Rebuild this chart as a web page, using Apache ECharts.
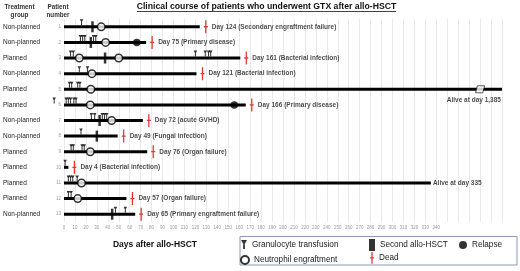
<!DOCTYPE html>
<html><head><meta charset="utf-8">
<script src="https://cdn.jsdelivr.net/npm/echarts@6/dist/echarts.min.js"></script>
<style>html,body{margin:0;padding:0;background:#fff}#c{width:520px;height:271px}</style>
</head><body><div id="c"></div>
<script>
// ---- data ----
const patients = ['1','2','3','4','5','6','7','8','9','10','11','12','13'];
const groups = ['Non-planned','Non-planned','Planned','Non-planned','Planned','Planned','Non-planned','Non-planned','Planned','Planned','Planned','Planned','Non-planned'];
const lastDay = [124, 75, 161, 121, 1385, 166, 72, 49, 76, 4, 335, 57, 65];
const deathDay = [124, 75, 161, 121, null, 166, 72, 49, 76, 4, null, 57, 65];
const deathCause = ['Secondary engraftment failure','Primary disease','Bacterial infection','Bacterial infection',null,'Primary disease','acute GVHD','Fungal infection','Organ failure','Bacterial infection',null,'Organ failure','Primary engraftment failure'];
const aliveDay = [null,null,null,null,1385,null,null,null,null,null,335,null,null];
const gtxDays = [[16],[15,17,19,27,29],[6,8.5,120,129,132,134],[14,21.5],[5,7,12.5,14.5],[-9,2,4,6,9,11],[25,28,35,37,39],[15.5],[6.5,8.5,16.5,18.5],[1],[4,6,8,12],[4,6.5],[47,56]];
const secondHsctDays = [[26],[24.5],[37.5],[],[],[],[32.5],[30],[],[],[],[],[44]];
const engraftDays = [[34],[38],[14,50],[25.5],[24.5],[24],[43.5],[],[24],[],[16],[12.5],[]];
const relapseDays = [[],[66.5],[],[],[],[155.5],[],[],[],[],[],[],[]];
const axisBreakDays = [null,null,null,null,380,null,null,null,null,null,null,null,null];
const xMax = 400;
const xLabelMax = 340;

// ---- build ----
const NF = "'Liberation Sans',Arial,sans-serif";
function pairs(arr){const o=[];arr.forEach((d,i)=>d.forEach(v=>o.push([v,i])));return o;}
const chart = echarts.init(document.getElementById('c'), null, {renderer:'canvas'});
const gtxPath = 'path://M0,0L8,0L4,7ZM2.8,6h2.4v6h-2.4z';
const deadPath = 'path://M1.5,0h1.4v13h-1.4zM0,5.8h4.4v1.3h-4.4z';
const breakPath = 'path://M2,0L10,0L8,7L0,7Z';
const legText = {fontSize:8.2,color:'#1a1a1a',fontFamily:NF};
function leg(name, icon, left, top, w, h){
  return {data:[icon?{name:name,icon:icon}:{name:name}],orient:'vertical',left:left,top:top,itemWidth:w,itemHeight:h,
          itemGap:0,padding:0,textStyle:legText,selectedMode:false};
}

const option = {
  animation:false,
  grid:{left:63,right:18,top:19,bottom:49},
  xAxis:{type:'value',min:0,max:xMax,interval:10,
    axisLine:{show:false},axisTick:{show:false},
    splitLine:{show:true,lineStyle:{color:'#e9e9e9',width:1}},
    axisLabel:{fontSize:4.5,color:'#9a9a9a',margin:3,formatter:v=>v<=xLabelMax?String(v):''}},
  yAxis:[
    {type:'category',data:patients,inverse:true,axisLine:{show:false},axisTick:{show:false},
     axisLabel:{fontSize:4.5,color:'#9a9a9a',margin:3}},
    {type:'category',data:groups,inverse:true,position:'left',axisLine:{show:false},axisTick:{show:false},
     axisLabel:{fontSize:6.5,color:'#222',margin:61,align:'left',fontFamily:NF}}
  ],
  legend:[
    leg('Granulocyte transfusion', gtxPath, 241, 240, 6, 10),
    leg('Neutrophil engraftment', null, 240, 255, 8, 8),
    leg('Second allo-HSCT', 'rect', 369, 239, 6, 12),
    leg('Dead', deadPath, 370, 252, 4, 14),
    leg('Relapse', null, 459, 241, 8, 8)
  ],
  graphic:[
    {type:'text',style:{text:'Clinical course of patients who underwent GTX after allo-HSCT',x:266.5,y:6.5,align:'center',verticalAlign:'middle',font:"bold 8.7px "+NF,fill:'#111'}},
    {type:'line',shape:{x1:137,y1:11.5,x2:396,y2:11.5},style:{stroke:'#111',lineWidth:0.8}},
    {type:'text',style:{text:'Treatment\ngroup',x:19.5,y:3,align:'center',font:"bold 6.3px "+NF,fill:'#333',lineHeight:8.5}},
    {type:'text',style:{text:'Patient\nnumber',x:58,y:3,align:'center',font:"bold 6.3px "+NF,fill:'#333',lineHeight:8.5}},
    {type:'text',style:{text:'Days after allo-HSCT',x:155,y:245,align:'center',verticalAlign:'middle',font:"bold 8.5px "+NF,fill:'#111'}},
    {type:'rect',shape:{x:240,y:236.5,width:277,height:28.5},style:{fill:'none',stroke:'#8a9ab5',lineWidth:1}}
  ],
  series:[
    {name:'course',type:'bar',barWidth:3,silent:true,itemStyle:{color:'#000'},z:1,
     data:lastDay.map(d=>Math.min(d,xMax))},
    {name:'break',type:'scatter',silent:true,symbol:breakPath,symbolSize:[9,7],z:3,
     itemStyle:{color:'#fff',borderColor:'#000',borderWidth:0.8},
     data:axisBreakDays.map((d,i)=>d==null?null:[d,i]).filter(Boolean)},
    {name:'Granulocyte transfusion',type:'scatter',clip:false,symbol:gtxPath,symbolSize:[3.5,6],symbolOffset:[0,-4.5],z:4,
     itemStyle:{color:'#000'},data:pairs(gtxDays)},
    {name:'Second allo-HSCT',type:'scatter',symbol:'rect',symbolSize:[2.5,11],z:4,itemStyle:{color:'#000'},data:pairs(secondHsctDays)},
    {name:'Neutrophil engraftment',type:'scatter',symbol:'circle',symbolSize:7.5,z:5,
     itemStyle:{color:'#fff',borderColor:'#000',borderWidth:1.5},data:pairs(engraftDays)},
    {name:'Relapse',type:'scatter',symbol:'circle',symbolSize:7.5,z:5,itemStyle:{color:'#000'},data:pairs(relapseDays)},
    {name:'Dead',type:'scatter',symbol:deadPath,symbolSize:[4,13],symbolOffset:[6,0],z:5,itemStyle:{color:'#e00000'},
     label:{show:true,position:'right',distance:4,fontSize:6.5,fontWeight:'bold',color:'#1a1a1a',fontFamily:NF,
       formatter:p=>'Day '+p.value[0]+' ('+deathCause[p.value[1]]+')'},
     data:deathDay.map((d,i)=>d==null?null:[d,i]).filter(Boolean)},
    {name:'alive',type:'scatter',symbolSize:0.1,silent:true,z:5,
     data:aliveDay.map((d,i)=>{
       if(d==null) return null;
       const clipped = d>xMax;
       return {value:[Math.min(d,xMax),i],label:{show:true,fontSize:6.5,fontWeight:'bold',color:'#1a1a1a',fontFamily:NF,
         formatter:'Alive at day '+d.toLocaleString('en-US'),
         position: clipped?[-1,7]:'right', align: clipped?'right':'left', distance:2}};
     }).filter(Boolean)}
  ]
};
chart.setOption(option);
</script></body></html>
